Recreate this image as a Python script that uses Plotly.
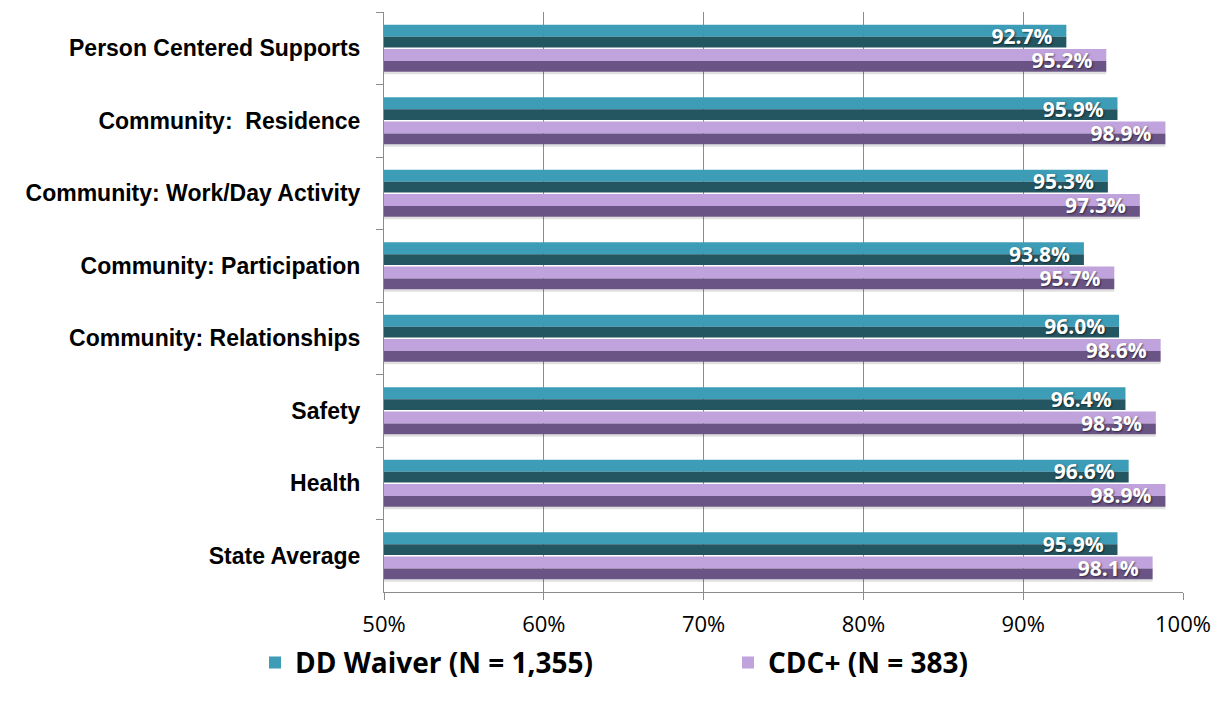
import plotly.graph_objects as go

categories = [
    "Person Centered Supports",
    "Community:  Residence",
    "Community: Work/Day Activity",
    "Community: Participation",
    "Community: Relationships",
    "Safety",
    "Health",
    "State Average",
]
dd_waiver = [92.7, 95.9, 95.3, 93.8, 96.0, 96.4, 96.6, 95.9]
cdc_plus = [95.2, 98.9, 97.3, 95.7, 98.6, 98.3, 98.9, 98.1]
series_names = ["DD Waiver (N = 1,355)", "CDC+ (N = 383)"]
x_ticks = [50, 60, 70, 80, 90, 100]
x_tick_labels = ["50%", "60%", "70%", "80%", "90%", "100%"]

CAT_FONT = "Liberation Sans"
NUM_FONT = "Open Sans"
TEAL_L, TEAL_D = "#3d9cb6", "#245662"
LIL_L, LIL_D = "#c0a3dd", "#6a5485"

fig = go.Figure()

def add_series(vals, name, light, dark, off, legend_id, shadow=False):
    fig.add_trace(go.Bar(
        y=categories, x=vals, orientation="h", name=name,
        offset=off, width=0.165, marker=dict(color=light, line=dict(width=0)),
        showlegend=True, legend=legend_id, hoverinfo="skip",
    ))
    fig.add_trace(go.Bar(
        y=categories, x=vals, orientation="h", name=name,
        offset=off + 0.165, width=0.15, marker=dict(color=dark, line=dict(width=0)),
        showlegend=False, hoverinfo="skip",
    ))
    if shadow:
        fig.add_trace(go.Bar(
            y=categories, x=vals, orientation="h", name=name,
            offset=off + 0.315, width=0.035,
            marker=dict(color="rgba(0,0,0,0.12)", line=dict(width=0)),
            showlegend=False, hoverinfo="skip",
        ))
    fig.add_trace(go.Bar(
        y=categories, x=vals, orientation="h", name=name,
        offset=off, width=0.315, marker=dict(color="rgba(0,0,0,0)", line=dict(width=0)),
        text=[f"{v:.1f}%\u00a0\u00a0" for v in vals],
        textposition="inside", insidetextanchor="end", textangle=0,
        textfont=dict(family=NUM_FONT, size=21, color="white",
                      weight="bold", shadow="1px 1px 2px rgba(0,0,0,0.55)"),
        showlegend=False, hoverinfo="skip",
    ))

add_series(dd_waiver, series_names[0], TEAL_L, TEAL_D, -0.325, "legend")
add_series(cdc_plus, series_names[1], LIL_L, LIL_D, 0.01, "legend2", shadow=True)

legend_common = dict(
    orientation="h", xref="paper", yref="paper",
    xanchor="left", y=-0.122, yanchor="middle",
    font=dict(family=NUM_FONT, size=28, color="black", weight="bold"),
    itemwidth=30, bgcolor="rgba(0,0,0,0)",
)

fig.update_layout(
    width=1221, height=703,
    margin=dict(l=384, r=38, t=12, b=111, autoexpand=False),
    barmode="overlay",
    plot_bgcolor="white", paper_bgcolor="white",
    uniformtext=dict(mode="show", minsize=21),
    font=dict(family=NUM_FONT, color="black"),
    xaxis=dict(
        range=[50, 100], tickvals=x_ticks, ticktext=x_tick_labels,
        showgrid=True, gridcolor="#8c8c8c", gridwidth=1,
        showline=True, linecolor="#8c8c8c", linewidth=1,
        ticks="outside", ticklen=7, tickcolor="#8c8c8c",
        tickfont=dict(family=NUM_FONT, size=22, color="black"),
        ticklabelstandoff=6,
        zeroline=False, fixedrange=True, automargin=False,
    ),
    yaxis=dict(
        autorange="reversed", type="category",
        showline=True, linecolor="#8c8c8c", linewidth=1,
        ticks="outside", ticklen=7, tickcolor="#8c8c8c",
        tickson="boundaries", showgrid=False,
        tickfont=dict(family=CAT_FONT, size=23, color="black", weight="bold"),
        ticklabelstandoff=18, automargin=False,
    ),
    legend=dict(legend_common, x=(255 - 384) / 799),
    legend2=dict(legend_common, x=(728 - 384) / 799),
)

fig.write_html("out.html")
